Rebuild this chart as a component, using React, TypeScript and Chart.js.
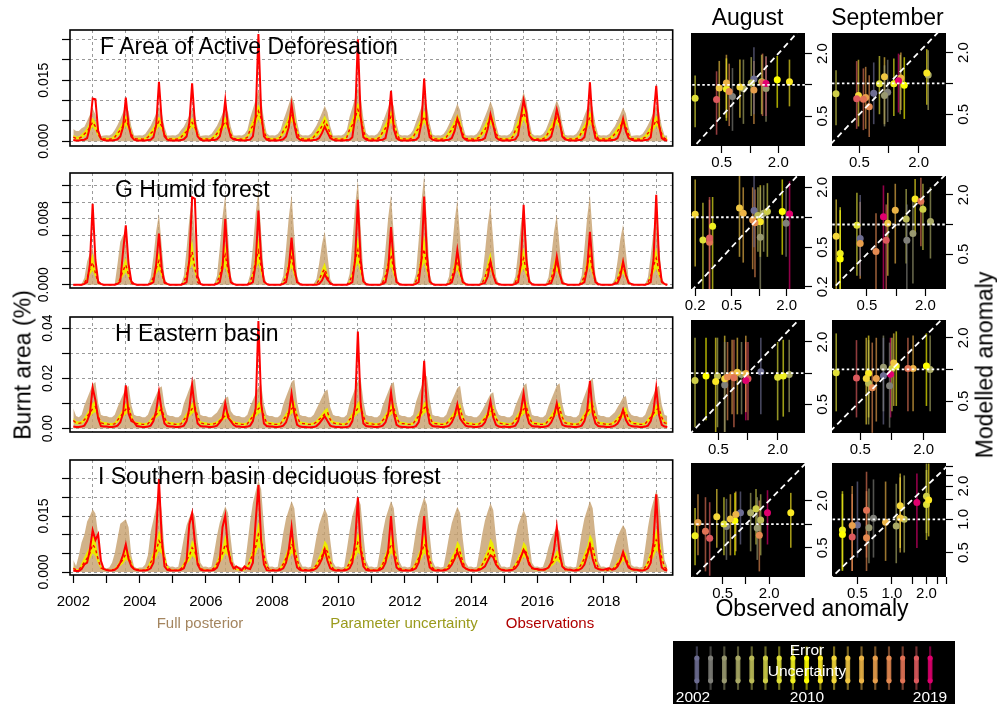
import React, { useEffect, useRef } from "react";
import { Chart, registerables } from "chart.js";
Chart.register(...registerables);

const FONT = '"Liberation Sans", Arial, Helvetica, sans-serif';
const YEARS = [2002, 2003, 2004, 2005, 2006, 2007, 2008, 2009, 2010, 2011, 2012, 2013, 2014, 2015, 2016, 2017, 2018, 2019];
const MONTHS = [0, 1, 2, 3, 4, 5, 6, 7, 8, 9, 10, 11];
const X_LABEL_YEARS = [2002, 2004, 2006, 2008, 2010, 2012, 2014, 2016, 2018];
const UNIT = 0.0001; // all monthly series below are in units of 1e-4 (% burnt area)

const YEAR_COLORS = ["#6d6d92", "#80807a", "#999970", "#aaaa66", "#bcbc58", "#cece48", "#e0e038", "#f0f020", "#ffff00", "#fbe924", "#f5d83a", "#f0c642", "#ecb447", "#e89f4c", "#e58a51", "#e17356", "#dd5a5e", "#e0006e"];

// ---------------- F Area of Active Deforesation ----------------
const F_OBS = [
  3, 2, 2, 3, 4, 8, 35, 105, 103, 25, 6, 3,
  2, 2, 2, 3, 5, 12, 35, 107, 40, 12, 4, 2,
  2, 2, 2, 3, 4, 10, 40, 146, 50, 12, 4, 2,
  2, 2, 2, 3, 5, 12, 45, 142, 45, 12, 4, 2,
  2, 2, 3, 3, 5, 12, 40, 101, 35, 10, 5, 3,
  3, 2, 2, 3, 4, 12, 60, 263, 70, 12, 4, 2,
  2, 2, 2, 3, 5, 12, 35, 89, 40, 10, 4, 2,
  2, 2, 2, 3, 4, 8, 20, 36, 22, 8, 4, 2,
  2, 2, 2, 3, 4, 10, 60, 250, 60, 10, 4, 2,
  2, 2, 2, 3, 4, 8, 40, 124, 30, 8, 3, 2,
  2, 2, 2, 3, 4, 10, 45, 154, 45, 10, 4, 2,
  2, 2, 2, 3, 4, 8, 25, 56, 35, 10, 4, 2,
  2, 2, 2, 3, 4, 8, 30, 66, 40, 10, 4, 2,
  2, 2, 2, 3, 5, 15, 60, 101, 70, 15, 5, 3,
  3, 2, 2, 3, 5, 12, 40, 78, 50, 12, 5, 3,
  2, 2, 2, 3, 4, 10, 45, 145, 40, 8, 3, 2,
  2, 2, 2, 3, 4, 8, 25, 55, 25, 8, 4, 2,
  2, 2, 2, 3, 4, 10, 60, 136, 40, 8, 3, 2,
];
const F_TAN = [
  30, 25, 25, 32, 36, 50, 65, 81, 66, 34, 13, 14,
  15, 14, 18, 28, 40, 55, 71, 89, 73, 37, 14, 14,
  15, 14, 18, 28, 38, 53, 68, 85, 70, 36, 14, 14,
  15, 14, 18, 28, 36, 50, 64, 80, 66, 34, 13, 14,
  15, 14, 18, 28, 38, 53, 68, 85, 70, 36, 14, 14,
  15, 14, 18, 28, 57, 79, 102, 127, 104, 53, 20, 14,
  15, 14, 18, 28, 51, 70, 90, 113, 93, 47, 18, 14,
  15, 14, 18, 28, 39, 54, 70, 87, 71, 37, 14, 14,
  15, 14, 18, 28, 60, 83, 107, 134, 110, 56, 21, 14,
  15, 14, 18, 28, 47, 65, 84, 105, 86, 44, 17, 14,
  15, 14, 18, 28, 47, 65, 84, 105, 86, 44, 17, 14,
  15, 14, 18, 28, 42, 58, 74, 93, 76, 39, 15, 14,
  15, 14, 18, 28, 44, 61, 78, 98, 80, 41, 16, 14,
  15, 14, 18, 28, 54, 75, 97, 121, 99, 51, 19, 14,
  15, 14, 18, 28, 45, 63, 81, 101, 83, 42, 16, 14,
  15, 14, 18, 28, 45, 63, 81, 101, 83, 42, 16, 14,
  15, 14, 18, 28, 37, 51, 66, 83, 68, 35, 13, 14,
  15, 14, 18, 28, 40, 55, 71, 89, 73, 37, 14, 14,
];
const F_YHI = [
  16, 12, 12, 18, 24, 34, 46, 58, 47, 23, 8, 9,
  9, 8, 10, 16, 27, 37, 51, 64, 52, 25, 9, 9,
  9, 8, 10, 16, 26, 36, 48, 61, 49, 24, 9, 9,
  9, 8, 10, 16, 24, 34, 46, 58, 46, 22, 8, 9,
  9, 8, 10, 16, 26, 36, 48, 61, 49, 24, 9, 9,
  9, 8, 10, 16, 38, 53, 72, 91, 74, 36, 13, 9,
  9, 8, 10, 16, 34, 47, 64, 81, 66, 32, 11, 9,
  9, 8, 10, 16, 26, 37, 50, 63, 50, 24, 9, 9,
  9, 8, 10, 16, 40, 56, 76, 96, 78, 38, 13, 9,
  9, 8, 10, 16, 32, 44, 60, 76, 61, 29, 11, 9,
  9, 8, 10, 16, 32, 44, 60, 76, 61, 29, 11, 9,
  9, 8, 10, 16, 28, 39, 53, 67, 54, 26, 9, 9,
  9, 8, 10, 16, 29, 41, 56, 71, 57, 27, 10, 9,
  9, 8, 10, 16, 36, 51, 69, 87, 70, 34, 12, 9,
  9, 8, 10, 16, 30, 42, 58, 73, 59, 28, 10, 9,
  9, 8, 10, 16, 30, 42, 58, 73, 59, 28, 10, 9,
  9, 8, 10, 16, 25, 35, 47, 60, 48, 23, 8, 9,
  9, 8, 10, 16, 27, 37, 51, 64, 52, 25, 9, 9,
];
const F_MED = [
  10, 7, 7, 11, 18, 24, 35, 47, 36, 16, 7, 6,
  6, 5, 6, 10, 20, 27, 38, 52, 39, 18, 7, 6,
  6, 5, 6, 10, 19, 26, 37, 49, 37, 17, 7, 6,
  6, 5, 6, 10, 18, 24, 34, 46, 35, 16, 7, 6,
  6, 5, 6, 10, 19, 26, 37, 49, 37, 17, 7, 6,
  6, 5, 6, 10, 28, 38, 55, 74, 56, 25, 7, 6,
  6, 5, 6, 10, 25, 34, 49, 66, 50, 23, 7, 6,
  6, 5, 6, 10, 19, 26, 37, 50, 38, 17, 7, 6,
  6, 5, 6, 10, 29, 40, 58, 78, 59, 27, 7, 6,
  6, 5, 6, 10, 23, 32, 45, 61, 46, 21, 7, 6,
  6, 5, 6, 10, 23, 32, 45, 61, 46, 21, 7, 6,
  6, 5, 6, 10, 20, 28, 40, 54, 41, 19, 7, 6,
  6, 5, 6, 10, 22, 29, 42, 57, 43, 20, 7, 6,
  6, 5, 6, 10, 27, 36, 52, 70, 53, 24, 7, 6,
  6, 5, 6, 10, 22, 30, 43, 59, 44, 20, 7, 6,
  6, 5, 6, 10, 22, 30, 43, 59, 44, 20, 7, 6,
  6, 5, 6, 10, 18, 25, 36, 48, 37, 17, 7, 6,
  6, 5, 6, 10, 20, 27, 38, 52, 39, 18, 7, 6,
];
const F_YLO = [
  6, 4, 4, 7, 11, 16, 24, 36, 26, 11, 4, 3,
  3, 3, 4, 6, 12, 18, 27, 39, 28, 12, 4, 3,
  3, 3, 4, 6, 12, 17, 26, 37, 27, 11, 4, 3,
  3, 3, 4, 6, 11, 16, 24, 35, 26, 10, 4, 3,
  3, 3, 4, 6, 12, 17, 26, 37, 27, 11, 4, 3,
  3, 3, 4, 6, 18, 25, 38, 56, 41, 17, 4, 3,
  3, 3, 4, 6, 16, 23, 34, 50, 36, 15, 4, 3,
  3, 3, 4, 6, 12, 17, 26, 38, 28, 11, 4, 3,
  3, 3, 4, 6, 19, 27, 40, 59, 43, 17, 4, 3,
  3, 3, 4, 6, 15, 21, 32, 46, 34, 14, 4, 3,
  3, 3, 4, 6, 15, 21, 32, 46, 34, 14, 4, 3,
  3, 3, 4, 6, 13, 19, 28, 41, 30, 12, 4, 3,
  3, 3, 4, 6, 14, 20, 29, 43, 31, 13, 4, 3,
  3, 3, 4, 6, 17, 24, 36, 53, 39, 16, 4, 3,
  3, 3, 4, 6, 14, 20, 30, 44, 32, 13, 4, 3,
  3, 3, 4, 6, 14, 20, 30, 44, 32, 13, 4, 3,
  3, 3, 4, 6, 12, 17, 25, 37, 27, 11, 4, 3,
  3, 3, 4, 6, 12, 18, 27, 39, 28, 12, 4, 3,
];

// ---------------- G Humid forest ----------------
const G_OBS = [
  0, 0, 0, 0, 1, 3, 25, 98, 30, 4, 1, 0,
  0, 0, 0, 0, 1, 4, 40, 72, 25, 4, 1, 0,
  0, 0, 0, 0, 1, 3, 25, 62, 20, 3, 1, 0,
  0, 0, 0, 0, 1, 3, 30, 106, 104, 10, 1, 0,
  0, 0, 0, 0, 1, 3, 20, 80, 25, 3, 1, 0,
  0, 0, 0, 0, 1, 3, 25, 90, 30, 4, 1, 0,
  0, 0, 0, 0, 1, 3, 20, 57, 20, 3, 1, 0,
  0, 0, 0, 0, 0, 1, 5, 13, 6, 2, 0, 0,
  0, 0, 0, 0, 1, 3, 30, 103, 30, 4, 1, 0,
  0, 0, 0, 0, 1, 3, 20, 70, 25, 3, 1, 0,
  0, 0, 0, 0, 1, 3, 30, 107, 35, 4, 1, 0,
  0, 0, 0, 0, 1, 3, 15, 42, 18, 3, 1, 0,
  0, 0, 0, 0, 1, 2, 10, 28, 12, 2, 1, 0,
  0, 0, 0, 0, 1, 3, 25, 97, 30, 4, 1, 0,
  0, 0, 0, 0, 1, 2, 12, 34, 14, 2, 1, 0,
  0, 0, 0, 0, 1, 3, 20, 64, 22, 3, 1, 0,
  0, 0, 0, 0, 1, 2, 10, 28, 12, 2, 1, 0,
  0, 0, 0, 0, 1, 3, 30, 109, 30, 4, 1, 0,
];
const G_TAN = [
  1, 1, 1, 1, 8, 28, 38, 45, 25, 4, 1, 1,
  1, 1, 1, 1, 25, 52, 60, 63, 32, 5, 1, 1,
  1, 1, 1, 1, 9, 34, 65, 86, 47, 9, 1, 1,
  1, 1, 1, 1, 11, 43, 80, 107, 59, 11, 1, 1,
  1, 1, 1, 1, 11, 44, 82, 109, 60, 11, 1, 1,
  1, 1, 1, 1, 12, 46, 86, 115, 63, 12, 1, 1,
  1, 1, 1, 1, 11, 44, 82, 109, 60, 11, 1, 1,
  1, 1, 1, 1, 7, 26, 49, 65, 36, 7, 1, 1,
  1, 1, 1, 1, 13, 51, 95, 127, 70, 13, 1, 1,
  1, 1, 1, 1, 11, 44, 82, 109, 60, 11, 1, 1,
  1, 1, 1, 1, 13, 53, 100, 133, 73, 13, 1, 1,
  1, 1, 1, 1, 10, 41, 77, 103, 57, 10, 1, 1,
  1, 1, 1, 1, 10, 39, 73, 97, 53, 10, 1, 1,
  1, 1, 1, 1, 10, 39, 73, 97, 53, 10, 1, 1,
  1, 1, 1, 1, 9, 34, 64, 85, 47, 9, 1, 1,
  1, 1, 1, 1, 11, 44, 82, 109, 60, 11, 1, 1,
  1, 1, 1, 1, 7, 29, 55, 73, 40, 7, 1, 1,
  1, 1, 1, 1, 9, 35, 65, 87, 48, 9, 1, 1,
];
const G_YHI = [
  0, 0, 0, 0, 3, 11, 27, 38, 19, 3, 0, 0,
  0, 0, 0, 0, 3, 10, 23, 33, 17, 3, 0, 0,
  0, 0, 0, 0, 3, 12, 28, 40, 20, 3, 0, 0,
  0, 0, 0, 0, 4, 17, 39, 55, 28, 4, 0, 0,
  0, 0, 0, 0, 4, 15, 35, 50, 25, 4, 0, 0,
  0, 0, 0, 0, 5, 17, 40, 57, 29, 5, 0, 0,
  0, 0, 0, 0, 4, 14, 32, 46, 23, 4, 0, 0,
  0, 0, 0, 0, 2, 8, 19, 27, 14, 2, 0, 0,
  0, 0, 0, 0, 5, 17, 41, 58, 29, 5, 0, 0,
  0, 0, 0, 0, 4, 15, 35, 50, 25, 4, 0, 0,
  0, 0, 0, 0, 5, 18, 42, 60, 30, 5, 0, 0,
  0, 0, 0, 0, 3, 12, 28, 40, 20, 3, 0, 0,
  0, 0, 0, 0, 3, 12, 28, 40, 20, 3, 0, 0,
  0, 0, 0, 0, 4, 14, 32, 45, 23, 4, 0, 0,
  0, 0, 0, 0, 3, 11, 27, 38, 19, 3, 0, 0,
  0, 0, 0, 0, 4, 14, 34, 48, 24, 4, 0, 0,
  0, 0, 0, 0, 3, 10, 22, 32, 16, 3, 0, 0,
  0, 0, 0, 0, 4, 14, 32, 45, 23, 4, 0, 0,
];
const G_MED = [
  0, 0, 0, 0, 2, 8, 19, 27, 14, 2, 0, 0,
  0, 0, 0, 0, 2, 7, 17, 24, 12, 2, 0, 0,
  0, 0, 0, 0, 2, 9, 20, 29, 14, 2, 0, 0,
  0, 0, 0, 0, 3, 12, 28, 40, 20, 3, 0, 0,
  0, 0, 0, 0, 3, 11, 25, 36, 18, 3, 0, 0,
  0, 0, 0, 0, 4, 12, 29, 41, 21, 4, 0, 0,
  0, 0, 0, 0, 3, 10, 23, 33, 17, 3, 0, 0,
  0, 0, 0, 0, 1, 6, 14, 19, 10, 1, 0, 0,
  0, 0, 0, 0, 4, 12, 30, 42, 21, 4, 0, 0,
  0, 0, 0, 0, 3, 11, 25, 36, 18, 3, 0, 0,
  0, 0, 0, 0, 4, 13, 30, 43, 22, 4, 0, 0,
  0, 0, 0, 0, 2, 9, 20, 29, 14, 2, 0, 0,
  0, 0, 0, 0, 2, 9, 20, 29, 14, 2, 0, 0,
  0, 0, 0, 0, 3, 10, 23, 32, 17, 3, 0, 0,
  0, 0, 0, 0, 2, 8, 19, 27, 14, 2, 0, 0,
  0, 0, 0, 0, 3, 10, 24, 35, 17, 3, 0, 0,
  0, 0, 0, 0, 2, 7, 16, 23, 12, 2, 0, 0,
  0, 0, 0, 0, 3, 10, 23, 32, 17, 3, 0, 0,
];
const G_YLO = [
  0, 0, 0, 0, 1, 5, 12, 17, 9, 1, 0, 0,
  0, 0, 0, 0, 1, 5, 10, 15, 8, 1, 0, 0,
  0, 0, 0, 0, 1, 5, 13, 18, 9, 1, 0, 0,
  0, 0, 0, 0, 2, 8, 18, 25, 13, 2, 0, 0,
  0, 0, 0, 0, 2, 7, 16, 22, 11, 2, 0, 0,
  0, 0, 0, 0, 2, 8, 18, 26, 13, 2, 0, 0,
  0, 0, 0, 0, 2, 6, 14, 21, 10, 2, 0, 0,
  0, 0, 0, 0, 1, 4, 9, 12, 6, 1, 0, 0,
  0, 0, 0, 0, 2, 8, 18, 26, 13, 2, 0, 0,
  0, 0, 0, 0, 2, 7, 16, 22, 11, 2, 0, 0,
  0, 0, 0, 0, 2, 8, 19, 27, 14, 2, 0, 0,
  0, 0, 0, 0, 1, 5, 13, 18, 9, 1, 0, 0,
  0, 0, 0, 0, 1, 5, 13, 18, 9, 1, 0, 0,
  0, 0, 0, 0, 2, 6, 14, 20, 10, 2, 0, 0,
  0, 0, 0, 0, 1, 5, 12, 17, 9, 1, 0, 0,
  0, 0, 0, 0, 2, 6, 15, 22, 11, 2, 0, 0,
  0, 0, 0, 0, 1, 5, 10, 14, 7, 1, 0, 0,
  0, 0, 0, 0, 2, 6, 14, 20, 10, 2, 0, 0,
];

// ---------------- H Eastern basin ----------------
const H_OBS = [
  8, 6, 6, 8, 12, 30, 60, 163, 113, 40, 10, 8,
  8, 6, 6, 8, 12, 25, 60, 172, 60, 30, 25, 10,
  8, 6, 6, 8, 12, 30, 70, 146, 70, 20, 10, 8,
  8, 6, 6, 8, 12, 30, 80, 175, 80, 20, 10, 8,
  8, 6, 6, 8, 12, 25, 40, 102, 45, 30, 15, 8,
  8, 6, 6, 8, 12, 30, 80, 428, 100, 20, 10, 8,
  8, 6, 6, 8, 12, 25, 60, 139, 60, 15, 8, 6,
  6, 5, 5, 6, 10, 20, 35, 49, 30, 12, 8, 6,
  6, 5, 5, 6, 10, 30, 90, 386, 100, 20, 10, 8,
  8, 6, 6, 8, 12, 25, 60, 144, 60, 15, 8, 6,
  6, 5, 5, 6, 10, 25, 80, 270, 80, 20, 10, 8,
  8, 6, 6, 8, 12, 25, 50, 97, 40, 25, 12, 8,
  8, 6, 6, 8, 12, 25, 55, 110, 45, 15, 8, 6,
  8, 6, 6, 8, 12, 30, 70, 140, 60, 20, 10, 8,
  8, 6, 6, 8, 12, 25, 50, 100, 45, 15, 10, 8,
  8, 6, 6, 8, 12, 30, 70, 190, 60, 20, 10, 8,
  8, 6, 6, 8, 12, 20, 40, 75, 35, 15, 10, 8,
  8, 6, 6, 8, 12, 30, 70, 163, 55, 15, 8, 6,
];
const H_TAN = [
  80, 50, 45, 55, 93, 120, 148, 176, 185, 102, 55, 50,
  50, 45, 45, 55, 85, 111, 136, 162, 170, 94, 55, 50,
  50, 45, 45, 55, 85, 110, 135, 161, 169, 93, 55, 50,
  50, 45, 45, 55, 100, 129, 159, 189, 199, 109, 55, 50,
  50, 45, 45, 55, 64, 83, 102, 122, 128, 70, 55, 50,
  50, 45, 45, 55, 88, 114, 140, 166, 175, 96, 55, 50,
  50, 45, 45, 55, 98, 127, 156, 185, 195, 107, 55, 50,
  50, 45, 45, 55, 78, 101, 125, 148, 156, 86, 55, 50,
  50, 45, 45, 55, 100, 130, 160, 190, 200, 110, 55, 50,
  50, 45, 45, 55, 93, 120, 148, 176, 185, 102, 55, 50,
  50, 45, 45, 55, 105, 137, 168, 200, 210, 116, 55, 50,
  50, 45, 45, 55, 85, 111, 136, 162, 170, 94, 55, 50,
  50, 45, 45, 55, 73, 94, 116, 138, 145, 80, 55, 50,
  50, 45, 45, 55, 90, 117, 144, 171, 180, 99, 55, 50,
  50, 45, 45, 55, 90, 117, 144, 171, 180, 99, 55, 50,
  50, 45, 45, 55, 100, 130, 160, 190, 200, 110, 55, 50,
  50, 45, 45, 55, 65, 85, 104, 124, 130, 72, 55, 50,
  50, 45, 45, 55, 85, 111, 136, 162, 170, 94, 55, 50,
];
const H_YHI = [
  42, 30, 28, 30, 45, 62, 81, 102, 113, 62, 30, 26,
  25, 22, 22, 25, 44, 61, 79, 99, 110, 61, 30, 26,
  25, 22, 22, 25, 40, 54, 71, 89, 99, 54, 30, 26,
  25, 22, 22, 25, 45, 62, 81, 102, 113, 62, 30, 26,
  25, 22, 22, 25, 29, 40, 53, 66, 73, 40, 30, 26,
  25, 22, 22, 25, 45, 62, 81, 102, 113, 62, 30, 26,
  25, 22, 22, 25, 45, 62, 81, 102, 113, 62, 30, 26,
  25, 22, 22, 25, 33, 46, 60, 75, 83, 46, 30, 26,
  25, 22, 22, 25, 46, 63, 83, 104, 115, 63, 30, 26,
  25, 22, 22, 25, 42, 58, 76, 95, 105, 58, 30, 26,
  25, 22, 22, 25, 46, 63, 83, 104, 115, 63, 30, 26,
  25, 22, 22, 25, 40, 55, 72, 90, 100, 55, 30, 26,
  25, 22, 22, 25, 38, 52, 68, 86, 95, 52, 30, 26,
  25, 22, 22, 25, 44, 61, 79, 99, 110, 61, 30, 26,
  25, 22, 22, 25, 42, 58, 76, 95, 105, 58, 30, 26,
  25, 22, 22, 25, 46, 63, 83, 104, 115, 63, 30, 26,
  25, 22, 22, 25, 34, 47, 61, 77, 85, 47, 30, 26,
  25, 22, 22, 25, 42, 58, 76, 95, 105, 58, 30, 26,
];
const H_MED = [
  32, 23, 21, 23, 35, 49, 63, 79, 88, 49, 23, 20,
  19, 17, 17, 19, 34, 47, 62, 77, 86, 47, 23, 20,
  19, 17, 17, 19, 31, 43, 55, 69, 77, 43, 23, 20,
  19, 17, 17, 19, 35, 49, 63, 79, 88, 49, 23, 20,
  19, 17, 17, 19, 23, 31, 41, 51, 57, 31, 23, 20,
  19, 17, 17, 19, 35, 49, 63, 79, 88, 49, 23, 20,
  19, 17, 17, 19, 35, 49, 63, 79, 88, 49, 23, 20,
  19, 17, 17, 19, 26, 36, 46, 58, 65, 36, 23, 20,
  19, 17, 17, 19, 36, 49, 64, 81, 90, 49, 23, 20,
  19, 17, 17, 19, 33, 45, 59, 74, 82, 45, 23, 20,
  19, 17, 17, 19, 36, 49, 64, 81, 90, 49, 23, 20,
  19, 17, 17, 19, 31, 43, 56, 70, 78, 43, 23, 20,
  19, 17, 17, 19, 29, 41, 53, 67, 74, 41, 23, 20,
  19, 17, 17, 19, 34, 47, 62, 77, 86, 47, 23, 20,
  19, 17, 17, 19, 33, 45, 59, 74, 82, 45, 23, 20,
  19, 17, 17, 19, 36, 49, 64, 81, 90, 49, 23, 20,
  19, 17, 17, 19, 26, 37, 48, 60, 66, 37, 23, 20,
  19, 17, 17, 19, 33, 45, 59, 74, 82, 45, 23, 20,
];
const H_YLO = [
  24, 17, 16, 17, 26, 36, 47, 59, 66, 36, 17, 15,
  14, 12, 12, 14, 25, 35, 46, 57, 64, 35, 17, 15,
  14, 12, 12, 14, 23, 32, 42, 51, 57, 32, 17, 15,
  14, 12, 12, 14, 26, 36, 47, 59, 66, 36, 17, 15,
  14, 12, 12, 14, 17, 23, 31, 38, 42, 23, 17, 15,
  14, 12, 12, 14, 26, 36, 47, 59, 66, 36, 17, 15,
  14, 12, 12, 14, 26, 36, 47, 59, 66, 36, 17, 15,
  14, 12, 12, 14, 19, 27, 35, 43, 48, 27, 17, 15,
  14, 12, 12, 14, 26, 37, 48, 60, 67, 37, 17, 15,
  14, 12, 12, 14, 24, 34, 44, 55, 61, 34, 17, 15,
  14, 12, 12, 14, 26, 37, 48, 60, 67, 37, 17, 15,
  14, 12, 12, 14, 23, 32, 42, 52, 58, 32, 17, 15,
  14, 12, 12, 14, 22, 30, 40, 49, 55, 30, 17, 15,
  14, 12, 12, 14, 25, 35, 46, 57, 64, 35, 17, 15,
  14, 12, 12, 14, 24, 34, 44, 55, 61, 34, 17, 15,
  14, 12, 12, 14, 26, 37, 48, 60, 67, 37, 17, 15,
  14, 12, 12, 14, 20, 27, 36, 44, 49, 27, 17, 15,
  14, 12, 12, 14, 24, 34, 44, 55, 61, 34, 17, 15,
];

// ---------------- I Southern basin deciduous forest ----------------
const I_OBS = [
  4, 3, 3, 8, 20, 25, 60, 112, 86, 101, 30, 8,
  5, 4, 4, 6, 12, 25, 45, 74, 35, 15, 8, 5,
  4, 4, 4, 6, 10, 25, 100, 249, 90, 15, 6, 4,
  4, 4, 4, 6, 10, 30, 128, 157, 80, 20, 6, 4,
  4, 4, 4, 6, 12, 30, 120, 151, 60, 25, 10, 15,
  10, 5, 15, 10, 8, 25, 135, 233, 83, 20, 5, 4,
  4, 4, 4, 6, 10, 25, 60, 120, 45, 12, 6, 4,
  4, 4, 4, 6, 10, 20, 35, 60, 30, 10, 6, 4,
  4, 4, 4, 6, 10, 25, 80, 200, 60, 15, 6, 4,
  4, 4, 4, 6, 10, 25, 60, 150, 50, 12, 6, 4,
  4, 4, 4, 6, 10, 25, 60, 150, 50, 12, 6, 4,
  4, 4, 4, 6, 10, 20, 35, 54, 35, 15, 10, 6,
  4, 4, 4, 6, 10, 15, 30, 45, 40, 20, 10, 6,
  4, 4, 4, 6, 10, 20, 40, 59, 45, 20, 12, 8,
  8, 6, 6, 8, 12, 25, 60, 121, 50, 15, 8, 6,
  6, 4, 4, 6, 10, 20, 45, 72, 35, 12, 8, 6,
  6, 8, 10, 6, 8, 15, 30, 54, 30, 12, 8, 6,
  6, 4, 4, 6, 10, 25, 80, 208, 60, 12, 6, 4,
];
const I_TAN = [
  32, 16, 45, 80, 100, 135, 150, 168, 157, 99, 28, 12,
  10, 12, 25, 50, 90, 129, 135, 141, 120, 45, 15, 10,
  12, 12, 20, 45, 108, 140, 175, 230, 160, 60, 20, 14,
  15, 12, 14, 50, 91, 125, 146, 166, 149, 83, 25, 14,
  15, 12, 14, 53, 97, 132, 155, 176, 158, 88, 26, 14,
  15, 12, 14, 74, 135, 185, 216, 246, 221, 123, 37, 14,
  15, 12, 14, 57, 105, 143, 167, 190, 171, 95, 29, 14,
  15, 12, 14, 51, 94, 128, 150, 170, 153, 85, 26, 14,
  15, 12, 14, 60, 110, 150, 176, 200, 180, 100, 30, 14,
  15, 12, 14, 57, 105, 143, 167, 190, 171, 95, 29, 14,
  15, 12, 14, 60, 110, 150, 176, 200, 180, 100, 30, 14,
  15, 12, 14, 53, 96, 131, 154, 175, 158, 88, 26, 14,
  15, 12, 14, 55, 101, 138, 162, 184, 166, 92, 28, 14,
  15, 12, 14, 50, 91, 125, 146, 166, 149, 83, 25, 14,
  15, 12, 14, 36, 66, 90, 106, 120, 108, 60, 18, 14,
  15, 12, 14, 57, 105, 143, 167, 190, 171, 95, 29, 14,
  15, 12, 14, 38, 69, 95, 111, 126, 113, 63, 19, 14,
  15, 12, 14, 65, 119, 163, 191, 217, 195, 109, 33, 14,
];
const I_YHI = [
  15, 8, 8, 25, 40, 55, 68, 99, 86, 45, 15, 10,
  8, 6, 8, 10, 20, 33, 44, 65, 56, 29, 10, 9,
  8, 6, 8, 17, 34, 56, 76, 112, 96, 50, 17, 9,
  8, 6, 8, 13, 26, 43, 58, 86, 74, 39, 13, 9,
  8, 6, 8, 15, 30, 50, 67, 99, 85, 45, 15, 9,
  8, 6, 8, 20, 40, 67, 91, 134, 115, 60, 20, 9,
  8, 6, 8, 15, 30, 50, 68, 100, 86, 45, 15, 9,
  8, 6, 8, 13, 26, 43, 58, 85, 73, 38, 13, 9,
  8, 6, 8, 16, 32, 53, 71, 105, 90, 47, 16, 9,
  8, 6, 8, 15, 30, 50, 68, 100, 86, 45, 15, 9,
  8, 6, 8, 15, 30, 50, 68, 100, 86, 45, 15, 9,
  8, 6, 8, 12, 25, 42, 56, 83, 71, 37, 12, 9,
  8, 6, 8, 14, 27, 45, 61, 90, 77, 41, 14, 9,
  8, 6, 8, 12, 24, 41, 55, 81, 70, 36, 12, 9,
  8, 6, 8, 9, 18, 30, 40, 59, 51, 27, 9, 9,
  8, 6, 8, 15, 30, 51, 69, 101, 87, 45, 15, 9,
  8, 6, 8, 9, 18, 30, 40, 59, 51, 27, 9, 9,
  8, 6, 8, 17, 35, 58, 78, 115, 99, 52, 17, 9,
];
const I_MED = [
  10, 6, 6, 16, 26, 37, 50, 74, 63, 33, 11, 7,
  6, 4, 6, 7, 14, 24, 33, 49, 42, 21, 7, 7,
  6, 4, 6, 12, 25, 41, 56, 84, 72, 37, 12, 7,
  6, 4, 6, 9, 19, 32, 43, 65, 55, 28, 9, 7,
  6, 4, 6, 11, 22, 37, 50, 74, 63, 33, 11, 7,
  6, 4, 6, 15, 29, 50, 67, 101, 86, 44, 15, 7,
  6, 4, 6, 11, 22, 37, 50, 75, 64, 33, 11, 7,
  6, 4, 6, 9, 19, 31, 43, 64, 54, 28, 9, 7,
  6, 4, 6, 12, 23, 39, 53, 79, 67, 35, 12, 7,
  6, 4, 6, 11, 22, 37, 50, 75, 64, 33, 11, 7,
  6, 4, 6, 11, 22, 37, 50, 75, 64, 33, 11, 7,
  6, 4, 6, 9, 18, 31, 42, 62, 53, 27, 9, 7,
  6, 4, 6, 10, 20, 33, 45, 68, 58, 30, 10, 7,
  6, 4, 6, 9, 18, 30, 41, 61, 52, 27, 9, 7,
  6, 4, 6, 6, 13, 22, 30, 44, 38, 19, 6, 7,
  6, 4, 6, 11, 22, 37, 51, 76, 65, 33, 11, 7,
  6, 4, 6, 6, 13, 22, 30, 44, 38, 19, 6, 7,
  6, 4, 6, 13, 25, 43, 58, 86, 74, 38, 13, 7,
];
const I_YLO = [
  6, 4, 4, 10, 17, 25, 34, 50, 43, 22, 7, 5,
  4, 3, 4, 5, 10, 16, 22, 33, 28, 14, 5, 5,
  4, 3, 4, 8, 17, 28, 38, 56, 48, 25, 8, 5,
  4, 3, 4, 6, 13, 22, 29, 43, 37, 19, 6, 5,
  4, 3, 4, 7, 15, 25, 34, 50, 43, 22, 7, 5,
  4, 3, 4, 9, 20, 34, 46, 67, 58, 29, 9, 5,
  4, 3, 4, 7, 15, 25, 34, 50, 43, 22, 7, 5,
  4, 3, 4, 6, 13, 21, 29, 43, 37, 19, 6, 5,
  4, 3, 4, 7, 16, 26, 36, 53, 45, 23, 7, 5,
  4, 3, 4, 7, 15, 25, 34, 50, 43, 22, 7, 5,
  4, 3, 4, 7, 15, 25, 34, 50, 43, 22, 7, 5,
  4, 3, 4, 6, 12, 21, 28, 42, 36, 18, 6, 5,
  4, 3, 4, 6, 14, 23, 31, 45, 39, 20, 6, 5,
  4, 3, 4, 6, 12, 20, 28, 41, 35, 18, 6, 5,
  4, 3, 4, 4, 9, 15, 20, 30, 25, 13, 4, 5,
  4, 3, 4, 7, 15, 25, 34, 51, 43, 22, 7, 5,
  4, 3, 4, 4, 9, 15, 20, 30, 25, 13, 4, 5,
  4, 3, 4, 8, 17, 29, 39, 58, 49, 25, 8, 5,
];

// y-axis ticks of the time-series panels
const F_TICKS = [0, 0.005, 0.01, 0.015, 0.02, 0.025];
const F_TICK_LABELS = ["0.000", "", "", "0.015", "", ""];
const G_TICKS = [0, 0.002, 0.004, 0.006, 0.008, 0.01, 0.012];
const G_TICK_LABELS = ["0.000", "", "", "", "0.008", "", ""];
const H_TICKS = [0, 0.01, 0.02, 0.03, 0.04];
const H_TICK_LABELS = ["0.00", "", "0.02", "", "0.04"];
const I_TICKS = [0, 0.005, 0.01, 0.015, 0.02, 0.025];
const I_TICK_LABELS = ["0.000", "", "", "0.015", "", ""];

// ---------------- anomaly scatter panels (one point per year 2002..2019) ----------------
const F_AUG_OBS = [1.10, 0.65, 1.48, 0.85, 1.03, 1.33, 0.26, 0.56, 1.95, 2.63, 0.78, 0.47, 0.56, 1.10, 0.60, 1.36, 0.44, 1.48];
const F_AUG_MOD = [1.14, 0.77, 0.92, 0.92, 1.04, 1.07, 0.74, 0.91, 1.12, 1.07, 0.95, 0.93, 1.04, 0.89, 0.86, 1.05, 0.72, 1.03];
const F_AUG_LO = [0.52, 0.36, 0.44, 0.42, 0.50, 0.52, 0.39, 0.45, 0.60, 0.62, 0.48, 0.47, 0.48, 0.42, 0.40, 0.50, 0.33, 0.50];
const F_AUG_HI = [2.30, 1.45, 1.90, 1.75, 1.85, 1.95, 1.23, 1.80, 1.90, 1.75, 1.75, 1.70, 1.95, 1.70, 1.60, 2.00, 1.35, 1.85];
const F_SEP_OBS = [0.70, 0.97, 0.90, 2.50, 1.30, 0.29, 0.80, 1.12, 1.43, 2.42, 0.49, 0.90, 1.32, 0.58, 0.63, 0.55, 0.47, 1.25];
const F_SEP_MOD = [0.80, 0.82, 0.76, 1.21, 1.08, 0.79, 0.99, 0.99, 0.96, 1.26, 0.76, 1.16, 1.13, 0.73, 0.59, 0.70, 0.71, 1.06];
const F_SEP_LO = [0.40, 0.42, 0.38, 0.55, 0.50, 0.39, 0.50, 0.48, 0.45, 0.62, 0.38, 0.40, 0.55, 0.36, 0.30, 0.35, 0.36, 0.52];
const F_SEP_HI = [1.60, 1.70, 1.50, 2.10, 1.90, 1.34, 1.85, 1.75, 1.80, 2.15, 1.70, 1.80, 2.00, 1.45, 1.20, 1.40, 1.65, 1.95];

const G_AUG_OBS = [0.88, 1.97, 1.03, 1.12, 0.97, 1.23, 0.243, 0.31, 1.79, 1.03, 0.20, 0.61, 0.67, 0.85, 0.90, 0.287, 0.287, 2.15];
const G_AUG_MOD = [1.17, 0.87, 0.63, 1.10, 1.04, 1.14, 0.59, 0.81, 1.14, 0.90, 1.075, 1.24, 1.10, 0.94, 0.88, 0.56, 0.62, 1.08];
const G_AUG_LO = [0.50, 0.40, 0.18, 0.45, 0.45, 0.40, 0.19, 0.19, 0.42, 0.40, 0.32, 0.40, 0.35, 0.30, 0.25, 0.19, 0.19, 0.19];
const G_AUG_HI = [2.6, 2.0, 2.0, 2.1, 2.0, 2.2, 1.4, 1.6, 2.4, 2.1, 2.4, 2.6, 2.0, 2.0, 1.9, 1.5, 1.6, 2.3];
const G_SEP_OBS = [0.426, 1.29, 1.49, 2.26, 1.27, 1.89, 0.394, 0.265, 0.265, 1.57, 0.241, 0.82, 0.98, 0.426, 0.62, 1.80, 0.79, 0.74];
const G_SEP_MOD = [0.72, 0.69, 0.81, 1.07, 1.14, 1.43, 0.98, 0.505, 0.445, 1.82, 0.76, 1.03, 1.40, 0.64, 0.53, 1.73, 0.69, 1.20];
const G_SEP_LO = [0.30, 0.22, 0.25, 0.45, 0.40, 0.55, 0.30, 0.22, 0.22, 0.80, 0.22, 0.30, 0.40, 0.28, 0.22, 0.60, 0.22, 0.22];
const G_SEP_HI = [2.00, 1.60, 1.80, 2.40, 2.30, 2.60, 2.10, 1.50, 1.40, 2.90, 1.80, 2.10, 2.60, 1.70, 1.30, 3.00, 1.60, 2.50];

const H_AUG_OBS = [1.35, 0.58, 0.86, 2.62, 0.49, 0.29, 2.00, 2.28, 0.375, 0.47, 0.58, 0.78, 0.95, 0.69, 0.62, 0.72, 1.00, 0.95];
const H_AUG_MOD = [1.03, 0.77, 0.97, 0.97, 0.94, 0.85, 0.91, 0.94, 0.94, 0.83, 0.88, 1.02, 0.99, 0.97, 0.92, 0.90, 0.88, 0.85];
const H_AUG_LO = [0.40, 0.27, 0.40, 0.42, 0.30, 0.30, 0.35, 0.38, 0.35, 0.27, 0.27, 0.40, 0.42, 0.40, 0.35, 0.30, 0.35, 0.35];
const H_AUG_HI = [2.20, 2.00, 2.00, 2.10, 2.20, 2.20, 2.00, 2.10, 2.20, 2.20, 2.30, 2.20, 2.30, 2.10, 2.00, 2.10, 2.00, 2.00];
const H_SEP_OBS = [0.83, 0.95, 0.83, 2.31, 0.60, 1.00, 0.295, 1.10, 2.13, 0.60, 0.57, 1.04, 1.59, 0.71, 0.65, 1.42, 0.46, 0.97];
const H_SEP_MOD = [0.87, 0.70, 1.05, 1.00, 0.74, 1.02, 0.93, 1.08, 1.08, 0.92, 0.82, 1.15, 1.02, 0.82, 0.67, 1.02, 0.83, 0.90];
const H_SEP_LO = [0.30, 0.28, 0.40, 0.40, 0.30, 0.40, 0.40, 0.45, 0.45, 0.35, 0.30, 0.45, 0.40, 0.32, 0.25, 0.40, 0.35, 0.35];
const H_SEP_HI = [2.00, 1.80, 2.10, 2.10, 1.90, 2.00, 2.20, 2.30, 2.20, 2.10, 2.00, 2.20, 2.10, 2.00, 1.80, 2.00, 1.90, 2.00];

const I_AUG_OBS = [0.85, 0.56, 1.40, 1.15, 1.55, 1.35, 0.52, 0.22, 0.72, 3.80, 0.42, 0.63, 0.74, 0.24, 1.49, 0.30, 0.34, 1.90];
const I_AUG_MOD = [1.39, 0.93, 0.89, 1.39, 1.13, 1.57, 1.00, 0.71, 1.10, 1.39, 1.24, 1.16, 1.33, 1.05, 0.72, 0.81, 0.66, 1.39];
const I_AUG_LO = [0.55, 0.35, 0.35, 0.45, 0.40, 0.55, 0.40, 0.30, 0.40, 0.50, 0.50, 0.40, 0.45, 0.40, 0.25, 0.25, 0.22, 0.55];
const I_AUG_HI = [2.60, 2.10, 2.20, 2.50, 2.40, 2.80, 2.20, 1.60, 2.50, 2.50, 2.80, 2.40, 2.60, 2.40, 2.00, 2.20, 1.90, 2.70];
const I_SEP_OBS = [0.50, 0.69, 0.63, 1.09, 1.28, 2.00, 2.00, 0.37, 0.37, 2.09, 1.18, 1.18, 0.88, 0.45, 0.60, 0.60, 0.45, 1.65];
const I_SEP_MOD = [0.89, 1.02, 0.84, 0.87, 1.00, 1.62, 1.36, 0.80, 0.73, 1.50, 1.33, 1.03, 0.94, 0.88, 0.68, 1.21, 0.69, 1.42];
const I_SEP_LO = [0.45, 0.45, 0.40, 0.40, 0.50, 0.75, 0.65, 0.35, 0.34, 0.70, 0.55, 0.50, 0.42, 0.34, 0.34, 0.45, 0.34, 0.55];
const I_SEP_HI = [2.20, 2.30, 1.90, 2.10, 2.50, 3.20, 2.80, 1.80, 1.70, 3.20, 2.60, 2.40, 2.20, 2.00, 1.80, 2.70, 1.70, 2.60];

const LOG_TICKS = [0.5, 1, 2];
const LOG_LABELS = ["0.5", "", "2.0"];
const LOG_TICKS_WIDE = [0.2, 0.5, 1, 2];
const LOG_LABELS_WIDE = ["0.2", "0.5", "", "2.0"];
const LOG_TICKS_FINE = [0.5, 1, 1.5, 2, 2.5, 3];
const LOG_LABELS_FINE = ["0.5", "1.0", "", "2.0", "", ""];

// ---------------- helpers ----------------
const MONTH_X = YEARS.flatMap((y) => MONTHS.map((m) => y + m / 12));
const toPoints = (arr: number[]) => arr.map((v, i) => ({ x: MONTH_X[i], y: v * UNIT }));
const withAlpha = (hex: string, a: number) => {
  const n = parseInt(hex.slice(1), 16);
  return `rgba(${(n >> 16) & 255},${(n >> 8) & 255},${n & 255},${a})`;
};

const boxPlugin = {
  id: "box",
  afterDraw(chart: any) {
    const { ctx, chartArea: a } = chart;
    ctx.save();
    ctx.strokeStyle = "#000";
    ctx.lineWidth = 1.6;
    ctx.strokeRect(a.left, a.top, a.right - a.left, a.bottom - a.top);
    ctx.restore();
  },
};
const blackAreaPlugin = {
  id: "blackArea",
  beforeDraw(chart: any) {
    const { ctx, chartArea: a } = chart;
    ctx.save();
    ctx.fillStyle = "#000";
    ctx.fillRect(a.left, a.top, a.right - a.left, a.bottom - a.top);
    ctx.restore();
  },
};
const blackCanvasPlugin = {
  id: "blackCanvas",
  beforeDraw(chart: any) {
    const { ctx, width, height } = chart;
    ctx.save();
    ctx.fillStyle = "#000";
    ctx.fillRect(0, 0, width, height);
    ctx.restore();
  },
};

const TS_X_MIN = 2001.9;
const TS_X_MAX = 2020.08;
const GRID = "#9a9a9a";
const TAN = "rgba(199,161,111,0.82)";
const YEL = "rgba(236,236,0,1)";
const RED = "#ff0000";

function seriesConfig(p: any, canvasW: number, padTop: number, bottomH: number) {
  return {
    type: "line",
    data: {
      datasets: [
        { data: toPoints(p.obs), borderColor: RED, borderWidth: 2, pointRadius: 0, fill: false, order: 0 },
        { data: toPoints(p.med), borderColor: RED, borderWidth: 1.4, borderDash: [3, 3], pointRadius: 0, fill: false, order: 1 },
        { data: toPoints(p.yhi), borderWidth: 0, pointRadius: 0, backgroundColor: YEL, fill: "+1", order: 2 },
        { data: toPoints(p.ylo), borderWidth: 0, pointRadius: 0, fill: false, order: 2 },
        { data: toPoints(p.tan), borderWidth: 0, pointRadius: 0, backgroundColor: TAN, fill: "origin", order: 3 },
      ],
    },
    options: {
      responsive: false,
      animation: false,
      devicePixelRatio: 1,
      layout: { padding: { top: padTop, left: 0, right: canvasW - 672.7, bottom: 0 } },
      plugins: { legend: { display: false }, tooltip: { enabled: false } },
      scales: {
        x: {
          type: "linear",
          min: TS_X_MIN,
          max: TS_X_MAX,
          position: "bottom",
          afterBuildTicks: (s: any) => { s.ticks = YEARS.map((v) => ({ value: v })); },
          afterFit: (s: any) => { s.height = bottomH; },
          grid: { drawOnChartArea: false, drawTicks: p.showX, tickLength: 8, tickColor: "#000", tickWidth: 1.2 },
          border: { display: false },
          ticks: {
            display: p.showX,
            autoSkip: false,
            maxRotation: 0,
            minRotation: 0,
            padding: 10,
            color: "#000",
            font: { family: FONT, size: 15 },
            callback: (v: number) => (X_LABEL_YEARS.includes(v) ? String(v) : ""),
          },
        },
        xg: {
          type: "linear",
          min: TS_X_MIN,
          max: TS_X_MAX,
          position: "bottom",
          afterBuildTicks: (s: any) => { s.ticks = YEARS.map((v) => ({ value: v + 7 / 12 })); },
          afterFit: (s: any) => { s.height = 0; },
          grid: { drawTicks: false, color: GRID, lineWidth: 1 },
          border: { display: false, dash: [3, 3] },
          ticks: { display: false },
        },
        y: {
          type: "linear",
          min: p.yMin,
          max: p.yMax,
          position: "left",
          afterBuildTicks: (s: any) => { s.ticks = p.yTicks.map((v: number) => ({ value: v })); },
          afterFit: (s: any) => { s.width = 70; },
          grid: { color: GRID, lineWidth: 1, tickLength: 8, tickColor: "#000", tickWidth: 1.2, tickBorderDash: [] },
          border: { display: false, dash: [3, 3] },
          ticks: {
            autoSkip: false,
            minRotation: 90,
            maxRotation: 90,
            crossAlign: "center",
            padding: 0,
            color: "#000",
            font: { family: FONT, size: 14 },
            callback: (_v: number, i: number) => p.yLabels[i],
          },
        },
      },
    },
    plugins: [boxPlugin],
  };
}

function scatterConfig(s: any) {
  const pts = s.x.map((xv: number, i: number) => ({ x: xv, y: s.y[i] }));
  const errSets = s.x.map((xv: number, i: number) => ({
    type: "line",
    data: [{ x: xv, y: s.lo[i] }, { x: xv, y: s.hi[i] }],
    borderColor: withAlpha(YEAR_COLORS[i], 0.65),
    borderWidth: 1.6,
    pointRadius: 0,
    order: 3,
  }));
  return {
    type: "scatter",
    data: {
      datasets: [
        { type: "line", data: [{ x: 0.01, y: 0.01 }, { x: 100, y: 100 }], borderColor: "#fff", borderWidth: 1.8, borderDash: [6, 4], pointRadius: 0, order: 0 },
        { type: "line", data: [{ x: 0.01, y: 1 }, { x: 100, y: 1 }], borderColor: "#fff", borderWidth: 1.8, borderDash: [2.5, 2.5], pointRadius: 0, order: 1 },
        { type: "scatter", data: pts, pointBackgroundColor: YEAR_COLORS, pointBorderWidth: 0, pointRadius: 3.5, order: 2 },
        ...errSets,
      ],
    },
    options: {
      responsive: false,
      animation: false,
      devicePixelRatio: 1,
      layout: { padding: { left: 10, top: 6, right: 0, bottom: 0 } },
      plugins: { legend: { display: false }, tooltip: { enabled: false } },
      scales: {
        x: {
          type: "logarithmic",
          position: "bottom",
          min: s.xMin,
          max: s.xMax,
          afterBuildTicks: (sc: any) => { sc.ticks = s.xTicks.map((v: number) => ({ value: v })); },
          afterFit: (sc: any) => { sc.height = 28; },
          grid: { drawOnChartArea: false, tickLength: 7, tickColor: "#000", tickWidth: 1.2 },
          border: { display: false },
          ticks: {
            autoSkip: false,
            maxRotation: 0,
            minRotation: 0,
            padding: 1,
            color: "#000",
            font: { family: FONT, size: 15 },
            callback: (_v: number, i: number) => s.xLabels[i],
          },
        },
        y: {
          type: "logarithmic",
          position: "right",
          min: s.yMin,
          max: s.yMax,
          afterBuildTicks: (sc: any) => { sc.ticks = s.yTicks.map((v: number) => ({ value: v })); },
          afterFit: (sc: any) => { sc.width = 40; },
          grid: { drawOnChartArea: false, tickLength: 7, tickColor: "#000", tickWidth: 1.2 },
          border: { display: false },
          ticks: {
            autoSkip: false,
            minRotation: 90,
            maxRotation: 90,
            crossAlign: "center",
            padding: 0,
            color: "#000",
            font: { family: FONT, size: 15 },
            callback: (_v: number, i: number) => s.yLabels[i],
          },
        },
      },
    },
    plugins: [blackAreaPlugin],
  };
}

const LEGEND_ERR = [2, 51];
const LEGEND_UNC = [15, 41];

function legendConfig() {
  return {
    type: "bar",
    data: {
      labels: YEARS.map(String),
      datasets: [
        { type: "line", data: YEARS.map(() => LEGEND_UNC[0]), showLine: false, pointRadius: 2.6, pointBorderWidth: 0, pointBackgroundColor: YEAR_COLORS, order: 0 },
        { type: "line", data: YEARS.map(() => LEGEND_UNC[1]), showLine: false, pointRadius: 2.6, pointBorderWidth: 0, pointBackgroundColor: YEAR_COLORS, order: 0 },
        { type: "bar", data: YEARS.map(() => LEGEND_UNC), backgroundColor: YEAR_COLORS.map((c) => withAlpha(c, 0.85)), barThickness: 4, grouped: false, order: 1 },
        { type: "bar", data: YEARS.map(() => LEGEND_ERR), backgroundColor: YEAR_COLORS.map((c) => withAlpha(c, 0.5)), barThickness: 1.5, grouped: false, order: 2 },
      ],
    },
    options: {
      responsive: false,
      animation: false,
      devicePixelRatio: 1,
      layout: { padding: { left: 17, right: 18, top: 0, bottom: 0 } },
      plugins: { legend: { display: false }, tooltip: { enabled: false } },
      scales: {
        x: { display: false, offset: true },
        y: { display: false, min: 0, max: 63, reverse: true },
      },
    },
    plugins: [blackCanvasPlugin],
  };
}

function ChartCanvas({ left, top, width, height, make }: any) {
  const ref = useRef<HTMLCanvasElement | null>(null);
  useEffect(() => {
    const chart = new Chart(ref.current as HTMLCanvasElement, make());
    return () => chart.destroy();
  }, []);
  return (
    <canvas
      ref={ref}
      width={width}
      height={height}
      style={{ position: "absolute", left, top, width, height }}
    />
  );
}

function Txt({ x, y, size, color = "#000", rotate = false, align = "center", children }: any) {
  if (rotate) {
    return (
      <div style={{ position: "absolute", left: x, top: y, transform: "translate(-50%,-50%) rotate(-90deg)", fontFamily: FONT, fontSize: size, lineHeight: `${size}px`, color, whiteSpace: "nowrap" }}>
        {children}
      </div>
    );
  }
  return (
    <div style={{ position: "absolute", left: x, top: y - 0.8465 * size, transform: align === "center" ? "translateX(-50%)" : "none", fontFamily: FONT, fontSize: size, lineHeight: `${size}px`, color, whiteSpace: "nowrap" }}>
      {children}
    </div>
  );
}

const SERIES_PANELS = [
  { title: "F Area of Active Deforesation", tx: 100, ty: 54, obs: F_OBS, tan: F_TAN, yhi: F_YHI, med: F_MED, ylo: F_YLO, yMin: -0.00115, yMax: 0.0273, yTicks: F_TICKS, yLabels: F_TICK_LABELS, top: 30, bottom: 146, showX: false },
  { title: "G Humid forest", tx: 115, ty: 197, obs: G_OBS, tan: G_TAN, yhi: G_YHI, med: G_MED, ylo: G_YLO, yMin: -0.0004, yMax: 0.01354, yTicks: G_TICKS, yLabels: G_TICK_LABELS, top: 173, bottom: 288, showX: false },
  { title: "H Eastern basin", tx: 115, ty: 341, obs: H_OBS, tan: H_TAN, yhi: H_YHI, med: H_MED, ylo: H_YLO, yMin: -0.00135, yMax: 0.0444, yTicks: H_TICKS, yLabels: H_TICK_LABELS, top: 317, bottom: 432, showX: false },
  { title: "I Southern basin deciduous forest", tx: 98, ty: 484, obs: I_OBS, tan: I_TAN, yhi: I_YHI, med: I_MED, ylo: I_YLO, yMin: -0.0008, yMax: 0.03, yTicks: I_TICKS, yLabels: I_TICK_LABELS, top: 460, bottom: 575, showX: true },
];

const ROWS = [
  { top: 30, bottom: 146 },
  { top: 173, bottom: 289 },
  { top: 317, bottom: 433 },
  { top: 460, bottom: 577 },
];
const COLS = [691, 832];

const SCATTERS = [
  { row: 0, col: 0, x: F_AUG_OBS, y: F_AUG_MOD, lo: F_AUG_LO, hi: F_AUG_HI, xMin: 0.235, xMax: 3.85, yMin: 0.257, yMax: 3.16, xTicks: LOG_TICKS, xLabels: LOG_LABELS, yTicks: LOG_TICKS, yLabels: LOG_LABELS },
  { row: 0, col: 1, x: F_SEP_OBS, y: F_SEP_MOD, lo: F_SEP_LO, hi: F_SEP_HI, xMin: 0.264, xMax: 3.79, yMin: 0.245, yMax: 3.1, xTicks: LOG_TICKS, xLabels: LOG_LABELS, yTicks: LOG_TICKS, yLabels: LOG_LABELS },
  { row: 1, col: 0, x: G_AUG_OBS, y: G_AUG_MOD, lo: G_AUG_LO, hi: G_AUG_HI, xMin: 0.18, xMax: 3.17, yMin: 0.19, yMax: 2.6, xTicks: LOG_TICKS_WIDE, xLabels: LOG_LABELS_WIDE, yTicks: LOG_TICKS_WIDE, yLabels: LOG_LABELS_WIDE },
  { row: 1, col: 1, x: G_SEP_OBS, y: G_SEP_MOD, lo: G_SEP_LO, hi: G_SEP_HI, xMin: 0.218, xMax: 3.27, yMin: 0.22, yMax: 3.12, xTicks: LOG_TICKS, xLabels: LOG_LABELS, yTicks: LOG_TICKS, yLabels: LOG_LABELS },
  { row: 2, col: 0, x: H_AUG_OBS, y: H_AUG_MOD, lo: H_AUG_LO, hi: H_AUG_HI, xMin: 0.264, xMax: 3.79, yMin: 0.264, yMax: 3.26, xTicks: LOG_TICKS, xLabels: LOG_LABELS, yTicks: LOG_TICKS, yLabels: LOG_LABELS },
  { row: 2, col: 1, x: H_SEP_OBS, y: H_SEP_MOD, lo: H_SEP_LO, hi: H_SEP_HI, xMin: 0.269, xMax: 3.27, yMin: 0.249, yMax: 2.95, xTicks: LOG_TICKS, xLabels: LOG_LABELS, yTicks: LOG_TICKS, yLabels: LOG_LABELS },
  { row: 3, col: 0, x: I_AUG_OBS, y: I_AUG_MOD, lo: I_AUG_LO, hi: I_AUG_HI, xMin: 0.195, xMax: 5.8, yMin: 0.212, yMax: 6.0, xTicks: LOG_TICKS, xLabels: LOG_LABELS, yTicks: LOG_TICKS, yLabels: LOG_LABELS },
  { row: 3, col: 1, x: I_SEP_OBS, y: I_SEP_MOD, lo: I_SEP_LO, hi: I_SEP_HI, xMin: 0.343, xMax: 2.96, yMin: 0.34, yMax: 3.24, xTicks: LOG_TICKS_FINE, xLabels: LOG_LABELS_FINE, yTicks: LOG_TICKS_FINE, yLabels: LOG_LABELS_FINE },
];

export default function App() {
  return (
    <div style={{ position: "absolute", left: 0, top: 0, width: 997, height: 704, background: "#fff", overflow: "hidden" }}>
      {SERIES_PANELS.map((p, k) => {
        const padTop = 10;
        const bottomH = p.showX ? 45 : 24;
        const h = padTop + (p.bottom - p.top) + bottomH;
        return (
          <ChartCanvas key={"ts" + k} left={0} top={p.top - padTop} width={680} height={h} make={() => seriesConfig(p, 680, padTop, bottomH)} />
        );
      })}
      {SCATTERS.map((s, k) => {
        const r = ROWS[s.row];
        const areaH = r.bottom - r.top;
        return (
          <ChartCanvas key={"sc" + k} left={COLS[s.col] - 10} top={r.top - 6} width={164} height={6 + areaH + 28} make={() => scatterConfig(s)} />
        );
      })}
      <ChartCanvas left={673} top={641} width={282} height={63} make={legendConfig} />

      {SERIES_PANELS.map((p, k) => (
        <Txt key={"t" + k} x={p.tx} y={p.ty} size={23} align="left">{p.title}</Txt>
      ))}
      <Txt x={747.5} y={25} size={23}>August</Txt>
      <Txt x={887.5} y={25} size={23}>September</Txt>
      <Txt x={23} y={365} size={23} rotate>Burnt area (%)</Txt>
      <Txt x={985} y={365} size={23} rotate>Modelled anomaly</Txt>
      <Txt x={812} y={616} size={23}>Observed anomaly</Txt>
      <Txt x={200} y={628} size={15} color="#a4855f">Full posterior</Txt>
      <Txt x={404} y={628} size={15} color="#9a9a1c">Parameter uncertainty</Txt>
      <Txt x={550} y={628} size={15} color="#b00000">Observations</Txt>
      <Txt x={807} y={655} size={15.5} color="#fff">Error</Txt>
      <Txt x={807} y={676} size={15.5} color="#fff">Uncertainty</Txt>
      <Txt x={693} y={702} size={15.5} color="#fff">2002</Txt>
      <Txt x={807} y={702} size={15.5} color="#fff">2010</Txt>
      <Txt x={930} y={702} size={15.5} color="#fff">2019</Txt>
    </div>
  );
}
